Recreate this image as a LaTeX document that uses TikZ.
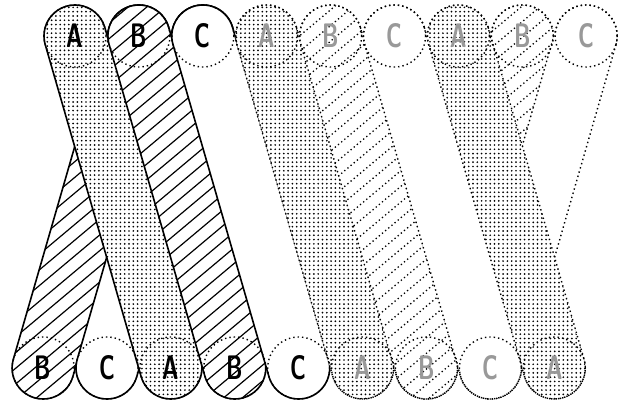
\documentclass[tikz,border=0pt]{standalone}
\usepackage{graphicx}
\usetikzlibrary{calc,patterns.meta}
\newcommand\hatchS{\foreach \c in {0,...,62} \draw[line width=1.2pt] (-20,{10-15.7*\c}) -- ++(40:900);}
\newcommand\hatchD{\foreach \c in {0,...,62} \draw[line width=1.3pt, dash pattern=on 1.3pt off 2.8pt] (-20,{10-15.7*\c}) -- ++(40:900);}
\begin{document}
\begin{tikzpicture}[x=1pt,y=1pt,
  solidline/.style={line width=1.6pt, line join=round},
  dotline/.style={line width=1.4pt, dash pattern=on 1.4pt off 3pt},
  dotfill/.style={pattern={Dots[distance=4.3pt,radius=0.95pt]}},
  stad/.style n args={3}{insert path={($(#1)+(#3+90:31)$) -- ($(#2)+(#3+90:31)$) arc[start angle=#3+90, end angle=#3-90, radius=31] -- ($(#1)+(#3-90:31)$) arc[start angle=#3-90, end angle=#3-270, radius=31] -- cycle}},
  letter/.style={font=\sffamily\bfseries\fontsize{34}{34}\selectfont, inner sep=0pt},
  fadeletter/.style={letter, text=black!40}
]
\useasboundingbox (0,0) rectangle (625,-403);
\fill[white] (0,0) rectangle (625,-403);
% centres
\foreach \i in {1,...,9} {
  \coordinate (t\i) at ({75+63.9*(\i-1)},-36);
  \coordinate (b\i) at ({43.1+63.9*(\i-1)},-368);
}
% ---------- back bands (going down-left) ----------
\fill[white, stad={t2}{b1}{-106.1}];
\begin{scope}\clip[stad={t2}{b1}{-106.1}]; \hatchS \end{scope}
\draw[solidline, stad={t2}{b1}{-106.1}];
\fill[white, stad={t3}{b2}{-106.1}];
\draw[solidline, stad={t3}{b2}{-106.1}];
\fill[white, stad={t8}{b7}{-106.1}];
\begin{scope}\clip[stad={t8}{b7}{-106.1}]; \hatchD \end{scope}
\draw[dotline, stad={t8}{b7}{-106.1}];
\fill[white, stad={t9}{b8}{-106.1}];
\draw[dotline, stad={t9}{b8}{-106.1}];
% ---------- front bands (going down-right) ----------
\fill[white, stad={t1}{b3}{-73.9}];
\fill[dotfill, stad={t1}{b3}{-73.9}];
\draw[solidline, stad={t1}{b3}{-73.9}];
\fill[white, stad={t2}{b4}{-73.9}];
\begin{scope}\clip[stad={t2}{b4}{-73.9}]; \hatchS \end{scope}
\draw[solidline, stad={t2}{b4}{-73.9}];
\fill[white, stad={t3}{b5}{-73.9}];
\draw[solidline, stad={t3}{b5}{-73.9}];
\fill[white, stad={t4}{b6}{-73.9}];
\fill[dotfill, stad={t4}{b6}{-73.9}];
\draw[dotline, stad={t4}{b6}{-73.9}];
\fill[white, stad={t5}{b7}{-73.9}];
\begin{scope}\clip[stad={t5}{b7}{-73.9}]; \hatchD \end{scope}
\draw[dotline, stad={t5}{b7}{-73.9}];
\fill[white, stad={t6}{b8}{-73.9}];
\draw[dotline, stad={t6}{b8}{-73.9}];
\fill[white, stad={t7}{b9}{-73.9}];
\fill[dotfill, stad={t7}{b9}{-73.9}];
\draw[dotline, stad={t7}{b9}{-73.9}];
% ---------- hidden inner arcs of the circles ----------
\foreach \n in {t1,t2,t3,t4,t5,t6,t7,t8,t9,b1,b2,b3,b4,b5,b6,b7,b8,b9}
  \draw[dotline] (\n) circle[radius=31];
% ---------- letters ----------
\node[letter] (lt1) at (t1) {\scalebox{0.66}[1]{A}};
\node[letter] (lt2) at (t2) {\scalebox{0.66}[1]{B}};
\node[letter] (lt3) at (t3) {\scalebox{0.66}[1]{C}};
\node[fadeletter] (lt4) at (t4) {\scalebox{0.66}[1]{A}};
\node[fadeletter] (lt5) at (t5) {\scalebox{0.66}[1]{B}};
\node[fadeletter] (lt6) at (t6) {\scalebox{0.66}[1]{C}};
\node[fadeletter] (lt7) at (t7) {\scalebox{0.66}[1]{A}};
\node[fadeletter] (lt8) at (t8) {\scalebox{0.66}[1]{B}};
\node[fadeletter] (lt9) at (t9) {\scalebox{0.66}[1]{C}};
\node[letter] (lb1) at (b1) {\scalebox{0.66}[1]{B}};
\node[letter] (lb2) at (b2) {\scalebox{0.66}[1]{C}};
\node[letter] (lb3) at (b3) {\scalebox{0.66}[1]{A}};
\node[letter] (lb4) at (b4) {\scalebox{0.66}[1]{B}};
\node[letter] (lb5) at (b5) {\scalebox{0.66}[1]{C}};
\node[fadeletter] (lb6) at (b6) {\scalebox{0.66}[1]{A}};
\node[fadeletter] (lb7) at (b7) {\scalebox{0.66}[1]{B}};
\node[fadeletter] (lb8) at (b8) {\scalebox{0.66}[1]{C}};
\node[fadeletter] (lb9) at (b9) {\scalebox{0.66}[1]{A}};
\end{tikzpicture}
\end{document}
